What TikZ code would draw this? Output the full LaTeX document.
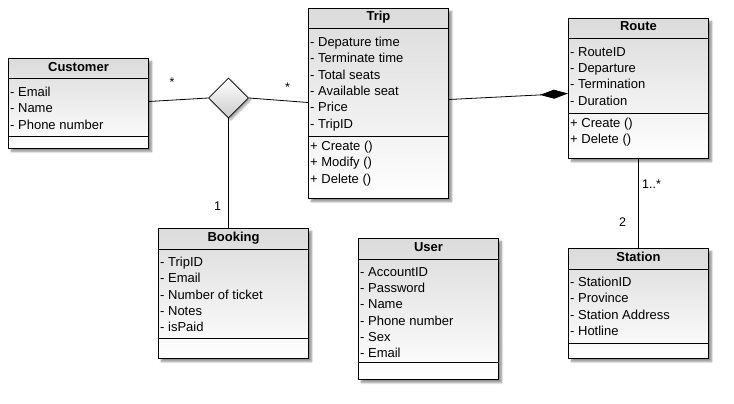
\documentclass[tikz,border=0pt]{standalone}
\usepackage{fontspec}
\setmainfont{Liberation Sans}
\usepackage{tikz}
\usetikzlibrary{shapes.geometric, arrows.meta, shadows.blur}

\tikzset{
  classbox/.style={draw, line width=1pt, top color=black!14, bottom color=white,
    blur shadow={shadow xshift=3pt, shadow yshift=-3pt, shadow blur steps=6, shadow opacity=45},
    anchor=north west, inner sep=0pt, minimum width=140pt},
  classname/.style={font=\bfseries\fontsize{13}{16}\selectfont, anchor=base},
  members/.style={font=\fontsize{13}{16.3}\selectfont, align=left, anchor=north west, inner sep=0pt},
  mult/.style={font=\fontsize{12.5}{15}\selectfont, inner sep=0pt},
  assoc/.style={line width=0.8pt},
}

\begin{document}
\begin{tikzpicture}[x=1pt, y=-1pt]
  \useasboundingbox (0,0) rectangle (734,404);

  % Class boxes
  \node[classbox, minimum height=90pt] (customer) at (8,58) {};
  \node[classbox, minimum height=190pt] (trip) at (308,8) {};
  \node[classbox, minimum height=140pt] (route) at (568,18) {};
  \node[classbox, minimum height=130pt, minimum width=150pt] (booking) at (158,228) {};
  \node[classbox, minimum height=141pt] (user) at (358,238) {};
  \node[classbox, minimum height=110pt] (station) at (568,248) {};

  % Customer
  \draw[line width=1pt] ([yshift=-21pt]customer.north west) -- ([yshift=-21pt]customer.north east);
  \draw[line width=1pt] ([yshift=-78pt]customer.north west) -- ([yshift=-78pt]customer.north east);
  \node[classname] (customer-name) at ([yshift=-13pt]customer.north) {Customer};
  \node[members] (customer-attr) at ([xshift=2pt, yshift=-29pt]customer.north west)
    {- Email\\- Name\\- Phone number};

  % Trip
  \draw[line width=1pt] ([yshift=-21pt]trip.north west) -- ([yshift=-21pt]trip.north east);
  \draw[line width=1pt] ([yshift=-128pt]trip.north west) -- ([yshift=-128pt]trip.north east);
  \node[classname] (trip-name) at ([yshift=-13pt]trip.north) {Trip};
  \node[members] (trip-attr) at ([xshift=2pt, yshift=-29pt]trip.north west)
    {- Depature time\\- Terminate time\\- Total seats\\- Available seat\\- Price\\- TripID};
  \node[members] (trip-ops) at ([xshift=2pt, yshift=-133pt]trip.north west)
    {+ Create ()\\+ Modify ()\\+ Delete ()};

  % Route
  \draw[line width=1pt] ([yshift=-21pt]route.north west) -- ([yshift=-21pt]route.north east);
  \draw[line width=1pt] ([yshift=-95pt]route.north west) -- ([yshift=-95pt]route.north east);
  \node[classname] (route-name) at ([yshift=-13pt]route.north) {Route};
  \node[members] (route-attr) at ([xshift=2pt, yshift=-29pt]route.north west)
    {- RouteID\\- Departure\\- Termination\\- Duration};
  \node[members] (route-ops) at ([xshift=2pt, yshift=-100pt]route.north west)
    {+ Create ()\\+ Delete ()};

  % Booking
  \draw[line width=1pt] ([yshift=-21pt]booking.north west) -- ([yshift=-21pt]booking.north east);
  \draw[line width=1pt] ([yshift=-110pt]booking.north west) -- ([yshift=-110pt]booking.north east);
  \node[classname] (booking-name) at ([yshift=-13pt]booking.north) {Booking};
  \node[members] (booking-attr) at ([xshift=2pt, yshift=-29pt]booking.north west)
    {- TripID\\- Email\\- Number of ticket\\- Notes\\- isPaid};

  % User
  \draw[line width=1pt] ([yshift=-21pt]user.north west) -- ([yshift=-21pt]user.north east);
  \draw[line width=1pt] ([yshift=-124pt]user.north west) -- ([yshift=-124pt]user.north east);
  \node[classname] (user-name) at ([yshift=-13pt]user.north) {User};
  \node[members] (user-attr) at ([xshift=2pt, yshift=-29pt]user.north west)
    {- AccountID\\- Password\\- Name\\- Phone number\\- Sex\\- Email};

  % Station
  \draw[line width=1pt] ([yshift=-21pt]station.north west) -- ([yshift=-21pt]station.north east);
  \draw[line width=1pt] ([yshift=-95pt]station.north west) -- ([yshift=-95pt]station.north east);
  \node[classname] (station-name) at ([yshift=-13pt]station.north) {Station};
  \node[members] (station-attr) at ([xshift=2pt, yshift=-29pt]station.north west)
    {- StationID\\- Province\\- Station Address\\- Hotline};

  % Ternary association diamond
  \node[diamond, draw, line width=0.8pt, minimum width=40pt, minimum height=40pt, inner sep=0pt,
    top color=white, bottom color=black!20,
    blur shadow={shadow xshift=2pt, shadow yshift=-2pt, shadow blur steps=5, shadow opacity=40}] (rel) at (228.5,98) {};

  % Connectors
  \draw[assoc] ([yshift=2pt]customer.east) -- (rel.west);
  \draw[assoc] (rel.east) -- ([yshift=1pt]trip.west);
  \draw[assoc] (rel.south) -- (rel.south |- booking.north);
  \draw[assoc, -{Diamond[length=28pt, width=9pt]}] ([yshift=4pt]trip.east) -- ([yshift=-5pt]route.west);
  \draw[assoc] (route.south) -- (station.north);

  % Multiplicities
  \node[mult] (m-customer) at (172,82.5) {*};
  \node[mult] (m-trip) at (287.5,87.5) {*};
  \node[mult] (m-booking) at (217.5,206) {1};
  \node[mult] (m-route) at (651.5,184) {1..*};
  \node[mult] (m-station) at (622.5,222) {2};
\end{tikzpicture}
\end{document}
